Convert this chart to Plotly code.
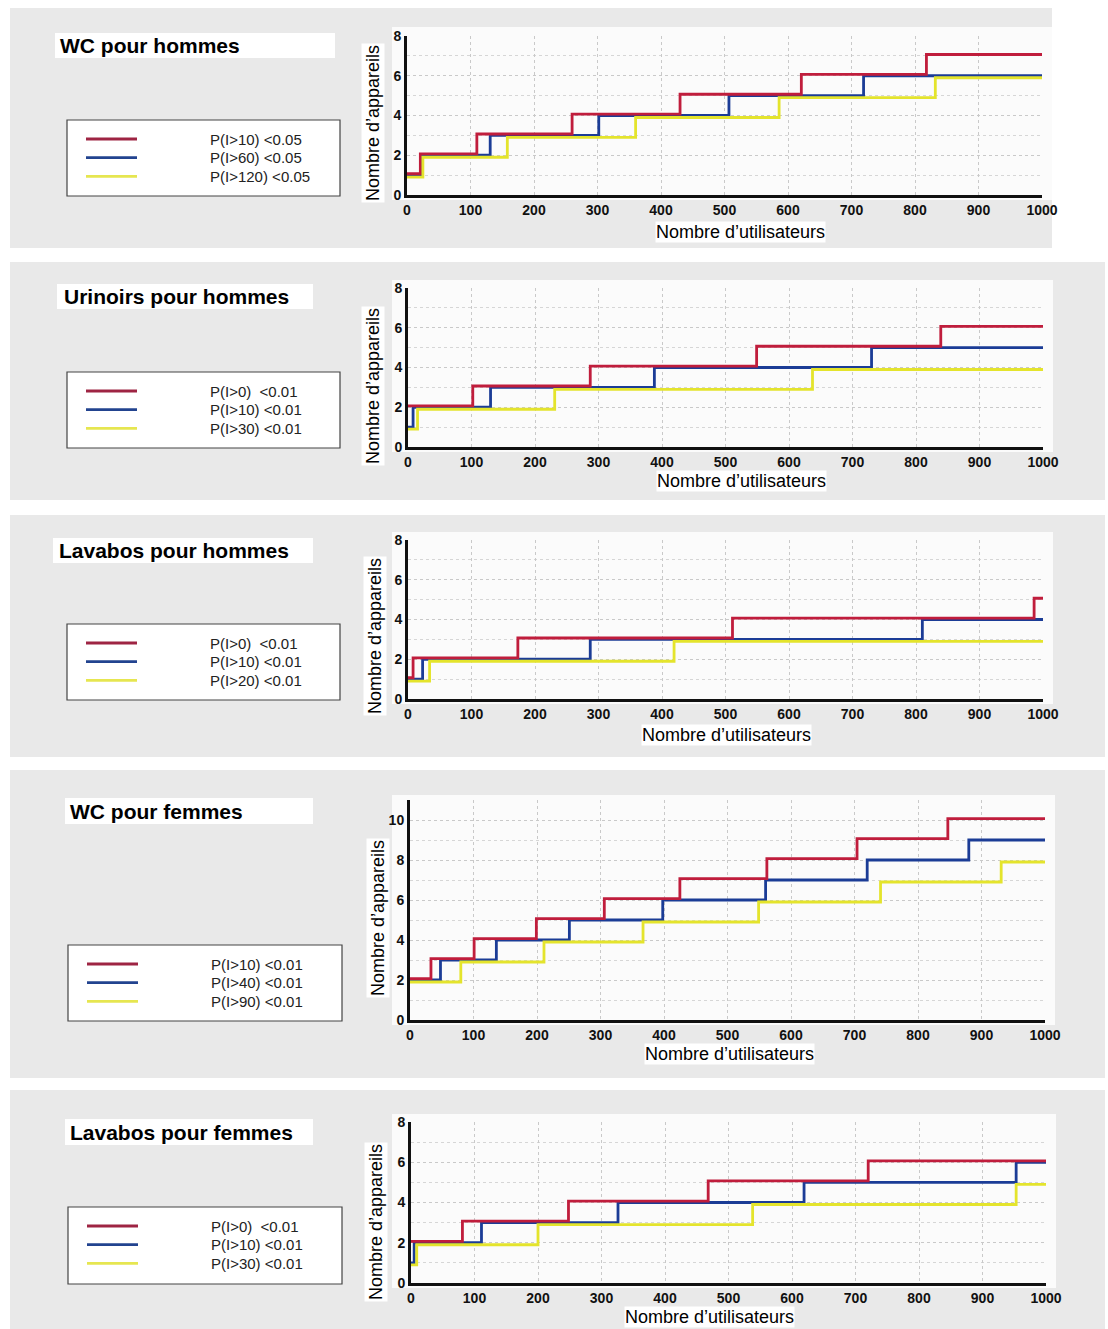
import plotly.graph_objects as go

W, H = 1108, 1329

# ---------------- data ----------------
panel_titles = ["WC pour hommes", "Urinoirs pour hommes", "Lavabos pour hommes",
                "WC pour femmes", "Lavabos pour femmes"]
x_title = "Nombre d’utilisateurs"
y_title = "Nombre d’appareils"

legend_labels = [
    ["P(I>10) <0.05", "P(I>60) <0.05", "P(I>120) <0.05"],
    ["P(I>0)  <0.01", "P(I>10) <0.01", "P(I>30) <0.01"],
    ["P(I>0)  <0.01", "P(I>10) <0.01", "P(I>20) <0.01"],
    ["P(I>10) <0.01", "P(I>40) <0.01", "P(I>90) <0.01"],
    ["P(I>0)  <0.01", "P(I>10) <0.01", "P(I>30) <0.01"],
]

x_ticks = [0, 100, 200, 300, 400, 500, 600, 700, 800, 900, 1000]

# WC pour hommes
wch_red_x = [0, 21, 110, 260, 430, 621, 818, 1000]
wch_red_y = [1, 2, 3, 4, 5, 6, 7, 7]
wch_blue_x = [0, 23, 131, 302, 507, 719, 1000]
wch_blue_y = [1, 2, 3, 4, 5, 6, 6]
wch_yel_x = [0, 25, 158, 360, 586, 832, 1000]
wch_yel_y = [1, 2, 3, 4, 5, 6, 6]

# Urinoirs pour hommes
uri_red_x = [0, 102, 287, 549, 839, 1000]
uri_red_y = [2, 3, 4, 5, 6, 6]
uri_blue_x = [0, 8, 130, 388, 730, 1000]
uri_blue_y = [1, 2, 3, 4, 5, 5]
uri_yel_x = [0, 15, 231, 637, 1000]
uri_yel_y = [1, 2, 3, 4, 4]

# Lavabos pour hommes
lvh_red_x = [0, 8, 173, 511, 986, 1000]
lvh_red_y = [1, 2, 3, 4, 5, 5]
lvh_blue_x = [0, 23, 287, 810, 1000]
lvh_blue_y = [1, 2, 3, 4, 4]
lvh_yel_x = [0, 34, 419, 1000]
lvh_yel_y = [1, 2, 3, 3]

# WC pour femmes
wcf_red_x = [0, 33, 101, 199, 306, 425, 562, 704, 847, 1000]
wcf_red_y = [2, 3, 4, 5, 6, 7, 8, 9, 10, 10]
wcf_blue_x = [0, 48, 136, 251, 398, 560, 720, 880, 1000]
wcf_blue_y = [2, 3, 4, 5, 6, 7, 8, 9, 9]
wcf_yel_x = [0, 80, 211, 367, 549, 741, 931, 1000]
wcf_yel_y = [2, 3, 4, 5, 6, 7, 8, 8]

# Lavabos pour femmes
lvf_red_x = [0, 81, 248, 468, 720, 1000]
lvf_red_y = [2, 3, 4, 5, 6, 6]
lvf_blue_x = [0, 5, 111, 326, 619, 953, 1000]
lvf_blue_y = [1, 2, 3, 4, 5, 6, 6]
lvf_yel_x = [0, 9, 200, 538, 953, 1000]
lvf_yel_y = [1, 2, 3, 4, 5, 5]

series = [
    [(wch_red_x, wch_red_y), (wch_blue_x, wch_blue_y), (wch_yel_x, wch_yel_y)],
    [(uri_red_x, uri_red_y), (uri_blue_x, uri_blue_y), (uri_yel_x, uri_yel_y)],
    [(lvh_red_x, lvh_red_y), (lvh_blue_x, lvh_blue_y), (lvh_yel_x, lvh_yel_y)],
    [(wcf_red_x, wcf_red_y), (wcf_blue_x, wcf_blue_y), (wcf_yel_x, wcf_yel_y)],
    [(lvf_red_x, lvf_red_y), (lvf_blue_x, lvf_blue_y), (lvf_yel_x, lvf_yel_y)],
]
y_max = [8, 8, 8, 11, 8]

# ---------------- layout geometry (pixels) ----------------
plot_px = [  # x0, x1, ytop, ybottom
    (407, 1042, 36, 195),
    (408, 1043, 288, 447),
    (408, 1043, 540, 699),
    (410, 1045, 800, 1020),
    (411, 1046, 1122, 1283),
]
gray_px = [(10, 1052, 8, 248), (10, 1105, 262, 500), (10, 1105, 515, 757),
           (10, 1105, 770, 1078), (10, 1105, 1090, 1329)]
white_px = [(392, 1052, 27, 200), (392, 1053, 280, 452), (392, 1053, 532, 704),
            (392, 1055, 795, 1025), (392, 1056, 1114, 1288)]
title_px = [(55, 335, 33, 58, 58), (57, 313, 284, 309, 62), (53, 313, 538, 563, 57),
            (65, 313, 798, 824, 68), (65, 313, 1119, 1145, 68)]
legend_px = [(67, 340, 120, 196), (67, 340, 372, 448), (67, 340, 624, 700),
             (68, 342, 945, 1021), (68, 342, 1207, 1284)]
ytitle_px = [(373, 123), (373, 386), (375, 636), (378, 918), (376, 1222)]
xtitle_px = [(740, 232), (741, 481), (726, 735), (729, 1054), (709, 1317)]

colors = ["#c01d3c", "#1b3c96", "#e4e42c"]
leg_colors = ["#9e2443", "#22438f", "#e6e650"]
offsets = [-0.07, 0.0, 0.1]   # small visual separation of coincident steps


def X(px):
    return px / W


def Y(py):
    return 1 - py / H


fig = go.Figure()
shapes = []
annotations = []
layout = {}
tick_font = dict(family="Liberation Sans Narrow, Liberation Sans, Arial", size=14,
                 color="#111", weight="bold")

for p in range(5):
    k = p + 1
    x0, x1, yt, yb = plot_px[p]
    xa = "xaxis" if k == 1 else f"xaxis{k}"
    ya = "yaxis" if k == 1 else f"yaxis{k}"
    xref = "x" if k == 1 else f"x{k}"
    yref = "y" if k == 1 else f"y{k}"
    layout[xa] = dict(
        domain=[X(x0), X(x1)], range=[0, 1000], anchor=yref, automargin=False,
        tickvals=x_ticks, showgrid=True, gridcolor="#c9c9c9", griddash="dot",
        gridwidth=1, showline=True, linecolor="#111", linewidth=3,
        zeroline=False, ticks="", fixedrange=True, tickfont=tick_font,
    )
    layout[ya] = dict(
        domain=[Y(yb), Y(yt)], range=[0, y_max[p]], anchor=xref, automargin=False,
        dtick=2, tick0=0, showgrid=True, gridcolor="#c9c9c9", griddash="dot",
        minor=dict(dtick=1, showgrid=True, gridcolor="#d6d6d6", griddash="dot"),
        showline=True, linecolor="#111", linewidth=3, zeroline=False, ticks="",
        fixedrange=True, tickfont=tick_font,
    )
    ov_refs = {}
    for s, off in enumerate(offsets):
        if off == 0.0:
            ov_refs[s] = yref
            continue
        n = 5 + k if s == 0 else 10 + k
        layout[f"yaxis{n}"] = dict(overlaying=yref, anchor=xref, automargin=False,
                                   range=[0 + off, y_max[p] + off],
                                   visible=False, fixedrange=True)
        ov_refs[s] = f"y{n}"

    for s in [2, 1, 0]:
        sx, sy = series[p][s]
        fig.add_trace(go.Scatter(
            x=sx, y=sy, mode="lines", line=dict(shape="hv", color=colors[s], width=2.8),
            xaxis=xref, yaxis=ov_refs[s], showlegend=False, hoverinfo="skip",
            cliponaxis=False,
        ))

    gx0, gx1, gy0, gy1 = gray_px[p]
    shapes.append(dict(type="rect", xref="paper", yref="paper", layer="below",
                       x0=X(gx0), x1=X(gx1), y0=Y(gy1), y1=Y(gy0),
                       fillcolor="#e9e9e9", line=dict(width=0)))
    wx0, wx1, wy0, wy1 = white_px[p]
    shapes.append(dict(type="rect", xref="paper", yref="paper", layer="below",
                       x0=X(wx0), x1=X(wx1), y0=Y(wy1), y1=Y(wy0),
                       fillcolor="#fbfbfb", line=dict(width=0)))
    tx0, tx1, ty0, ty1, ttx = title_px[p]
    shapes.append(dict(type="rect", xref="paper", yref="paper", layer="below",
                       x0=X(tx0), x1=X(tx1), y0=Y(ty1), y1=Y(ty0),
                       fillcolor="#ffffff", line=dict(width=0)))
    annotations.append(dict(text=f"<b>{panel_titles[p]}</b>", xref="paper", yref="paper",
                            x=X(ttx), y=Y((ty0 + ty1) / 2), xanchor="left", yanchor="middle",
                            showarrow=False,
                            font=dict(family="Liberation Sans, Arial", size=21, color="#000")))
    lx0, lx1, ly0, ly1 = legend_px[p]
    shapes.append(dict(type="rect", xref="paper", yref="paper", layer="below",
                       x0=X(lx0), x1=X(lx1), y0=Y(ly1), y1=Y(ly0),
                       fillcolor="#ffffff", line=dict(color="#444", width=1.2)))
    for s in range(3):
        yy = ly0 + 19 + s * 18.7
        shapes.append(dict(type="line", xref="paper", yref="paper",
                           x0=X(lx0 + 19), x1=X(lx0 + 70), y0=Y(yy), y1=Y(yy),
                           line=dict(color=leg_colors[s], width=2.8)))
        annotations.append(dict(text=legend_labels[p][s], xref="paper", yref="paper",
                                x=X(lx0 + 141), y=Y(yy), xanchor="left", yanchor="middle",
                                showarrow=False,
                                font=dict(family="Liberation Sans Narrow, Liberation Sans, Arial",
                                          size=15, color="#222")))
    ax, ay = ytitle_px[p]
    annotations.append(dict(text=y_title, xref="paper", yref="paper", x=X(ax), y=Y(ay),
                            xanchor="center", yanchor="middle", textangle=-90,
                            showarrow=False, bgcolor="#ffffff", borderpad=1,
                            font=dict(family="Liberation Sans, Arial", size=18, color="#000")))
    bx, by = xtitle_px[p]
    annotations.append(dict(text=x_title, xref="paper", yref="paper", x=X(bx), y=Y(by),
                            xanchor="center", yanchor="middle",
                            showarrow=False, bgcolor="#ffffff", borderpad=0,
                            font=dict(family="Liberation Sans, Arial", size=18, color="#000")))

fig.update_layout(
    width=W, height=H, margin=dict(l=0, r=0, t=0, b=0, autoexpand=False),
    paper_bgcolor="#ffffff", plot_bgcolor="rgba(0,0,0,0)",
    shapes=shapes, annotations=annotations, showlegend=False,
    **layout,
)

fig.write_html("out.html", config={"displayModeBar": False},
               post_script="document.body.style.margin='0';document.body.style.padding='0';")
